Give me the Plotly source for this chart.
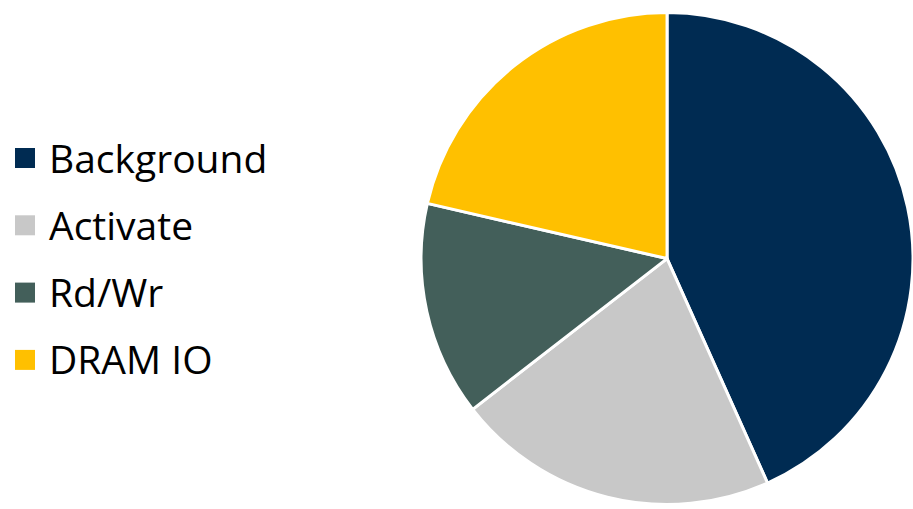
import plotly.graph_objects as go

labels = ["Background", "Activate", "Rd/Wr", "DRAM IO"]
values = [43.3, 21.2, 14.1, 21.4]
colors = ["#002B52", "#C8C8C8", "#435F5A", "#FFC000"]

W, H = 913, 509
fig = go.Figure()
fig.add_trace(go.Pie(
    labels=labels, values=values, sort=False, direction="clockwise", rotation=0,
    marker=dict(colors=colors, line=dict(color="white", width=3)),
    textinfo="none", hoverinfo="label+percent", showlegend=False,
    domain=dict(x=[0.4612, 1.0], y=[0.0, 0.984]),
))

# manual legend
top_c = 158
step = 67.3
for i, (lab, col) in enumerate(zip(labels, colors)):
    cy = top_c + i * step
    fig.add_shape(type="rect", xref="paper", yref="paper",
                  x0=15 / W, x1=35 / W, y0=1 - (cy + 10) / H, y1=1 - (cy - 10) / H,
                  fillcolor=col, line=dict(width=0))
    fig.add_annotation(xref="paper", yref="paper", x=47 / W, y=1 - (cy - 1) / H,
                       text=lab, showarrow=False, xanchor="left", yanchor="middle",
                       font=dict(family="Open Sans", size=39, color="#000000"))

fig.update_layout(width=W, height=H, margin=dict(l=0, r=0, t=0, b=0),
                  paper_bgcolor="white", plot_bgcolor="white")
fig.write_html("out.html")
